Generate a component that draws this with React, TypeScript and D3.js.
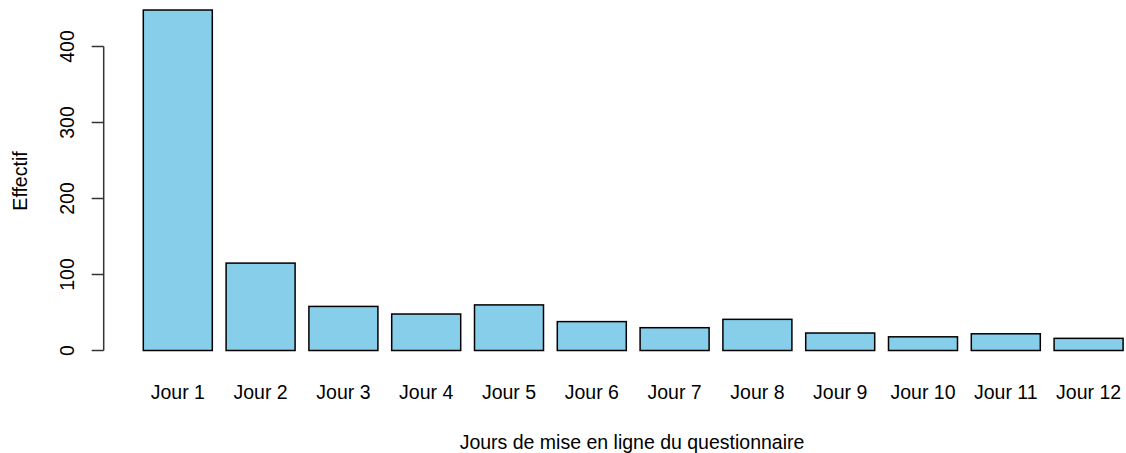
import React from "react";
import * as d3 from "d3";

const categories = ["Jour 1", "Jour 2", "Jour 3", "Jour 4", "Jour 5", "Jour 6", "Jour 7", "Jour 8", "Jour 9", "Jour 10", "Jour 11", "Jour 12"];
const values = [448, 115, 58, 48, 60, 38, 30, 41, 23, 18, 22, 16];
const yTicks = [0, 100, 200, 300, 400];
const xTitle = "Jours de mise en ligne du questionnaire";
const yTitle = "Effectif";

const W = 1126;
const H = 453;
const FONT = "'Liberation Sans', Arial, sans-serif";
const FS = 19.5;

export default function App() {
  const x = d3
    .scaleBand<string>()
    .domain(categories)
    .range([136.4, 1130])
    .paddingInner(1 / 6)
    .paddingOuter(1 / 12);
  const y = d3.scaleLinear().domain([0, 400]).range([350.5, 46.5]);
  const axisX = 103.7;

  return (
    <svg
      width={W}
      height={H}
      style={{ position: "absolute", left: 0, top: 0, background: "#fff" }}
      fontFamily={FONT}
    >
      <rect x={0} y={0} width={W} height={H} fill="#fff" />
      {categories.map((c, i) => (
        <rect
          key={c}
          x={x(c)}
          y={y(values[i])}
          width={x.bandwidth()}
          height={y(0) - y(values[i])}
          fill="#87CEEB"
          stroke="#000"
          strokeWidth={1.5}
        />
      ))}
      {categories.map((c) => (
        <text
          key={"l" + c}
          x={(x(c) as number) + x.bandwidth() / 2}
          y={398.5}
          textAnchor="middle"
          fontSize={FS}
          fill="#000"
        >
          {c}
        </text>
      ))}
      <line
        x1={axisX}
        x2={axisX}
        y1={y(0)}
        y2={y(400)}
        stroke="#333"
        strokeWidth={1.5}
      />
      {yTicks.map((t) => (
        <g key={"t" + t}>
          <line x1={axisX} x2={axisX - 12} y1={y(t)} y2={y(t)} stroke="#333" strokeWidth={1.5} />
          <text
            transform={`translate(73.5,${y(t)}) rotate(-90)`}
            textAnchor="middle"
            fontSize={FS}
            fill="#000"
          >
            {t}
          </text>
        </g>
      ))}
      <text x={632} y={448.5} textAnchor="middle" fontSize={FS} fill="#000">
        {xTitle}
      </text>
      <text
        transform={`translate(27,181) rotate(-90)`}
        textAnchor="middle"
        fontSize={FS}
        fill="#000"
      >
        {yTitle}
      </text>
    </svg>
  );
}
